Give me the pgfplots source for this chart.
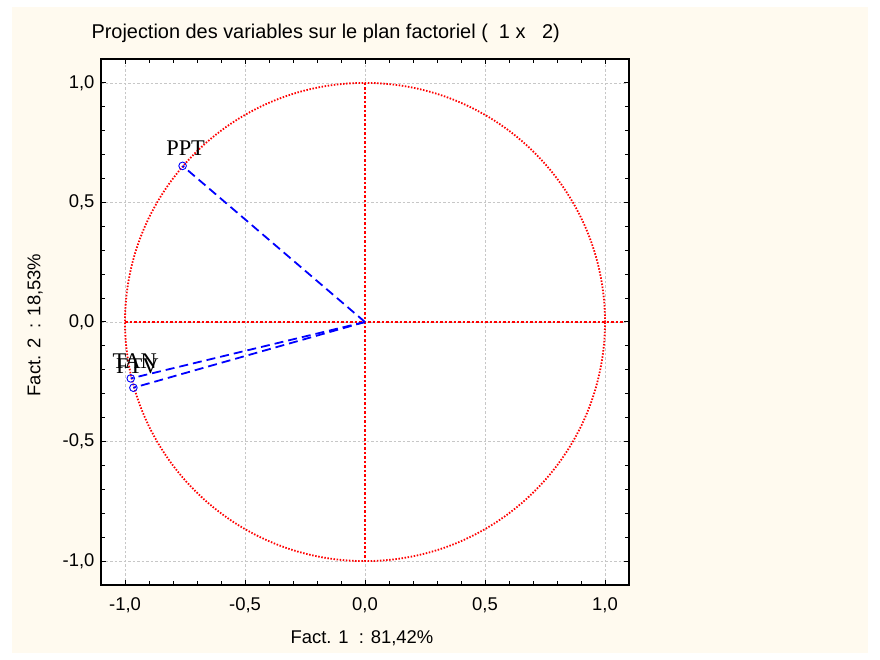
\documentclass[border=0pt]{standalone}
\usepackage{fontspec}
\setmainfont{Liberation Sans}
\newfontfamily\seriffont{Liberation Serif}
\usepackage{pgfplots}
\pgfplotsset{compat=1.18}
\definecolor{cream}{RGB}{255,250,239}
\begin{document}
\begin{tikzpicture}
\path[use as bounding box, fill=white] (0,0) rectangle (880bp,660bp);
\fill[cream] (12bp,7bp) rectangle (868bp,653bp);
\begin{axis}[
 at={(101bp,75bp)}, anchor=south west, scale only axis, width=528bp, height=526bp,
 xmin=-1.1, xmax=1.1, ymin=-1.1, ymax=1.1,
 xtick={-1,-0.5,0,0.5,1}, ytick={-1,-0.5,0,0.5,1},
 minor tick num=4,
 tick align=inside, major tick length=5bp, minor tick length=4bp,
 axis line style={line width=1.6bp},
 every tick/.style={black, line width=1bp},
 grid=major, major grid style={color=black!22, dash pattern=on 2.5bp off 2bp, line width=0.7bp},
 axis background/.style={fill=white},
 /pgf/number format/.cd, use comma, fixed, fixed zerofill, precision=1, assume math mode=true,
 /pgfplots/.cd,
 tick label style={font=\fontsize{18.5}{21}\selectfont},
 xticklabel style={yshift=-9bp},
 yticklabel style={xshift=-3bp},
 clip=false,
]
\draw[red, line width=1.8bp, dash pattern=on 1.5bp off 1.6bp] (axis cs:0,0) circle[radius=1];
\addplot[red, line width=2bp, dash pattern=on 2.5bp off 2bp] coordinates {(-1,0) (1.08,0)};
\addplot[red, line width=2.2bp, dash pattern=on 2.5bp off 2bp] coordinates {(0,1) (0,-1)};
\addplot[blue, line width=1.8bp, dash pattern=on 9bp off 5bp] coordinates {(0,0) (-0.760,0.653)};
\addplot[blue, line width=1.8bp, dash pattern=on 9bp off 5bp] coordinates {(0,0) (-0.976,-0.236)};
\addplot[blue, line width=1.8bp, dash pattern=on 9bp off 5bp] coordinates {(0,0) (-0.965,-0.275)};
\addplot[only marks, mark=o, mark size=3.8bp, blue, mark options={line width=0.9bp, solid}] coordinates {(-0.760,0.653) (-0.976,-0.236) (-0.965,-0.275)};
\node[anchor=base, font=\seriffont\fontsize{22.5}{22}\selectfont, xshift=3bp, yshift=10bp] at (axis cs:-0.760,0.653) {PPT};
\node[anchor=base, font=\seriffont\fontsize{22.5}{22}\selectfont, xshift=4bp, yshift=14.5bp] at (axis cs:-0.965,-0.275) {FTV};
\node[anchor=base, font=\seriffont\fontsize{22.5}{22}\selectfont, xshift=4bp, yshift=10.3bp] at (axis cs:-0.976,-0.236) {TAN};
\end{axis}
\node[anchor=west, font=\fontsize{20}{22}\selectfont] at (88bp,627bp) {Projection des variables sur le plan factoriel (\ \ 1 x \ \ 2)};
\node[font=\fontsize{18.5}{21}\selectfont] at (362bp,22bp) {Fact. 1\ \ : 81,42\%};
\node[rotate=90, font=\fontsize{18.5}{21}\selectfont] at (35bp,335bp) {Fact. 2\ \ : 18,53\%};
\end{tikzpicture}
\end{document}
